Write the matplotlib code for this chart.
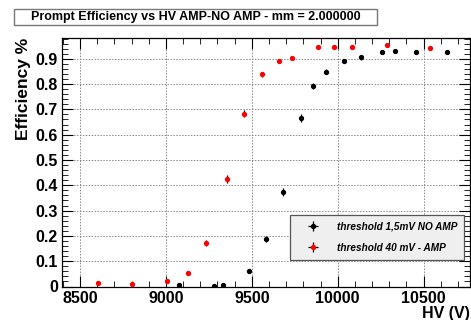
import matplotlib
matplotlib.use("Agg")
import matplotlib.pyplot as plt
from matplotlib.patches import Rectangle
from matplotlib.ticker import MultipleLocator, FuncFormatter

plt.rcParams["font.family"] = ["Liberation Sans", "DejaVu Sans"]

# threshold 1,5mV NO AMP
hv_noamp = [9077, 9280, 9330, 9481, 9580, 9683, 9784, 9858, 9933, 10034,
            10133, 10259, 10334, 10458, 10637]
eff_noamp = [0.004, 0.003, 0.007, 0.060, 0.187, 0.372, 0.665, 0.792, 0.849, 0.891,
             0.906, 0.927, 0.930, 0.928, 0.928]
err_noamp = [0.003, 0.002, 0.003, 0.008, 0.012, 0.016, 0.015, 0.013, 0.011, 0.009,
             0.009, 0.008, 0.008, 0.008, 0.008]

# threshold 40 mV - AMP
hv_amp = [8602, 8805, 9005, 9131, 9231, 9353, 9456, 9557, 9658, 9731,
          9883, 9981, 10082, 10284, 10536]
eff_amp = [0.013, 0.010, 0.023, 0.052, 0.171, 0.424, 0.682, 0.839, 0.891, 0.904,
           0.945, 0.947, 0.947, 0.953, 0.943]
err_amp = [0.004, 0.004, 0.005, 0.007, 0.011, 0.015, 0.014, 0.010, 0.009, 0.008,
           0.007, 0.007, 0.007, 0.007, 0.007]

W, H = 471, 320
fig = plt.figure(figsize=(W / 100, H / 100), dpi=100)
ax = fig.add_axes([62 / W, 33.5 / H, 408 / W, 248.5 / H])

ax.errorbar(hv_noamp, eff_noamp, yerr=err_noamp, xerr=6, fmt="o", ms=2.8,
            color="black", ecolor="black", elinewidth=0.9, capsize=0,
            label="threshold 1,5mV NO AMP", zorder=3)
ax.errorbar(hv_amp, eff_amp, yerr=err_amp, xerr=6, fmt="o", ms=2.8,
            color="red", ecolor="black", elinewidth=0.9, capsize=0,
            label="threshold 40 mV - AMP", zorder=3)

ax.set_xlim(8395, 10770)
ax.set_ylim(0, 0.982)
ax.xaxis.set_major_locator(MultipleLocator(500))
ax.xaxis.set_minor_locator(MultipleLocator(100))
ax.yaxis.set_major_locator(MultipleLocator(0.1))
ax.yaxis.set_minor_locator(MultipleLocator(0.02))
ax.yaxis.set_major_formatter(FuncFormatter(lambda v, p: "0" if abs(v) < 1e-9 else f"{v:.1f}"))
ax.tick_params(which="both", direction="in", top=True, right=True)
ax.tick_params(which="major", length=8, width=0.8, labelsize=11.5, pad=3)
ax.tick_params(which="minor", length=4, width=0.6)
for lab in ax.get_xticklabels() + ax.get_yticklabels():
    lab.set_fontweight("bold")
ax.grid(True, which="major", linestyle=(0, (1.5, 1.5)), color="#888888", linewidth=0.7)
for s in ax.spines.values():
    s.set_linewidth(0.9)

ax.set_ylabel("Efficiency %", fontsize=12.5, fontweight="bold", loc="top", labelpad=3)
ax.set_xlabel("HV (V)", fontsize=11.5, fontweight="bold", loc="right", labelpad=0)

leg = ax.legend(loc="lower right", bbox_to_anchor=(0.998, 0.088),
                prop={"weight": "bold", "style": "italic", "size": 7.2},
                frameon=True, fancybox=False, edgecolor="#555555",
                facecolor="#efefef", framealpha=1, handlelength=3.2,
                borderpad=0.7, labelspacing=1.1)
leg.get_frame().set_linewidth(0.9)

# title box as in ROOT
fig.patches.append(Rectangle((14 / W, 1 - 25 / H), 363 / W, 16 / H,
                             transform=fig.transFigure, facecolor="white",
                             edgecolor="#777777", linewidth=1.0))
fig.text(195.5 / W, 1 - 17 / H, "Prompt Efficiency vs HV AMP-NO AMP - mm = 2.000000",
         ha="center", va="center", fontsize=9, fontweight="bold")

fig.savefig("out.png", dpi=100)
